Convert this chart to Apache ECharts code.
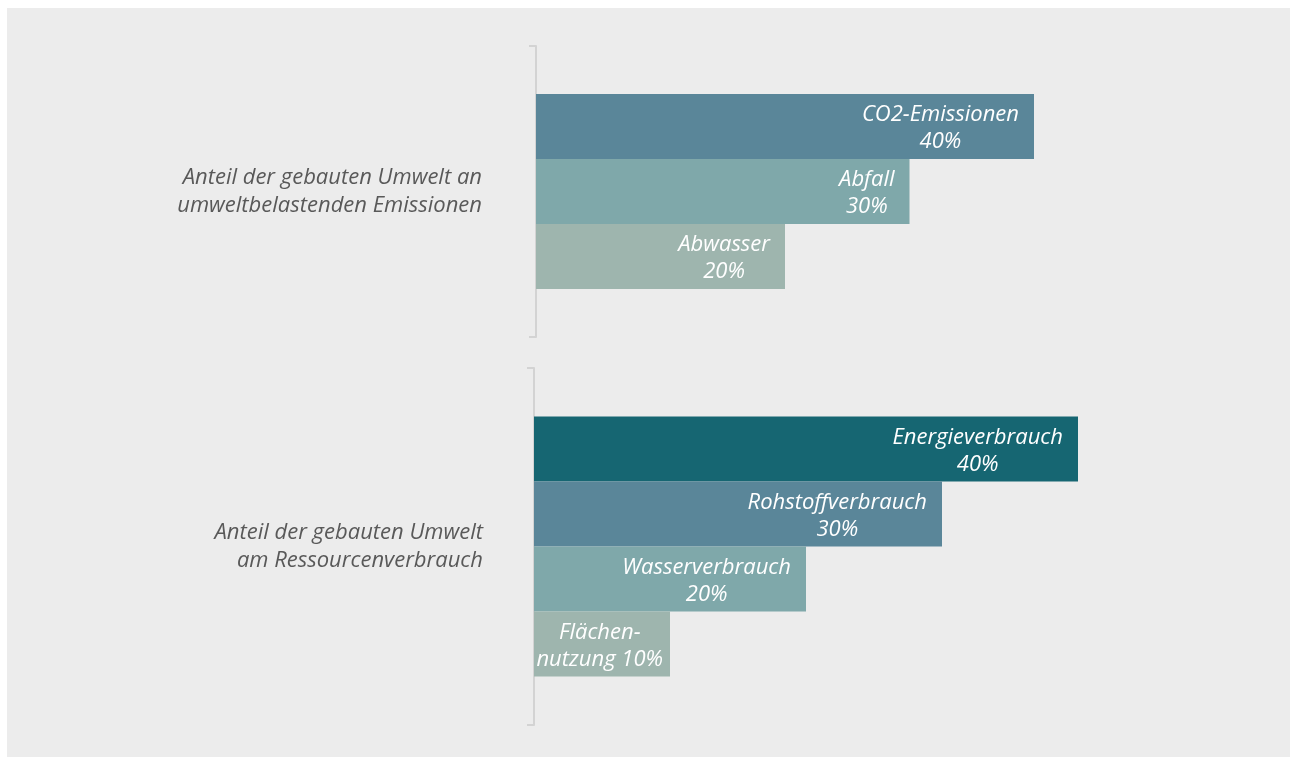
<!DOCTYPE html>
<html>
<head>
<meta charset="utf-8">
<script src="https://cdn.jsdelivr.net/npm/echarts@6/dist/echarts.min.js"></script>
<style>
  html, body { margin: 0; padding: 0; background: #ffffff; }
  #panel { position: absolute; left: 7px; top: 8px; width: 1283px; height: 749px; background: #ececec; }
  #chart { position: absolute; left: 0; top: 0; width: 1290px; height: 758px; }
</style>
</head>
<body>
<div id="panel"></div>
<div id="chart"></div>
<script>
// group titles (one category per group)
const emissionGroup = ["Anteil der gebauten Umwelt an\numweltbelastenden Emissionen"];
const resourceGroup = ["Anteil der gebauten Umwelt\nam Ressourcenverbrauch"];

const emissionNames = ["CO2-Emissionen", "Abfall", "Abwasser"];
const emissionValues = [40, 30, 20];

const resourceNames = ["Energieverbrauch", "Rohstoffverbrauch", "Wasserverbrauch", "Flächen-\nnutzung"];
const resourceValues = [40, 30, 20, 10];

const emissionColors = ["#5a8699", "#7fa8aa", "#9eb5ae"];
const resourceColors = ["#166672", "#5a8699", "#7fa8aa", "#9eb5ae"];

const font = "Open Sans";

function barLabel(name, value) {
  // two-line labels, each line centred in the block
  let text = name.indexOf("\n") >= 0 ? name + " " + value + "%" : name + "\n" + value + "%";
  return text.split("\n").map((l) => "{a|" + l + "}").join("\n");
}

function makeSeries(names, values, colors, gridIndex) {
  return names.map((name, i) => ({
    name: name,
    type: "bar",
    xAxisIndex: gridIndex,
    yAxisIndex: gridIndex,
    barWidth: 65,
    barGap: "0%",
    itemStyle: { color: colors[i] },
    label: {
      show: true,
      position: "insideRight",
      // the short bar has its label almost at the edge
      distance: name.indexOf("\n") >= 0 ? 7 : 15,
      offset: [0, 2],
      formatter: () => barLabel(name, values[i]),
      rich: {
        a: {
          align: "center",
          color: "#ffffff",
          fontFamily: font,
          fontStyle: "italic",
          fontSize: 22,
          lineHeight: 27,
        },
      },
    },
    data: [values[i]],
  }));
}

const catAxis = (data, margin) => ({
  type: "category",
  data: data,
  axisLine: { show: true, lineStyle: { color: "#d3d3d3", width: 2 } },
  axisTick: { show: true, length: 7, lineStyle: { color: "#d3d3d3", width: 2 } },
  axisLabel: {
    margin: margin,
    color: "#595959",
    fontFamily: font,
    fontStyle: "italic",
    fontSize: 22,
    lineHeight: 28,
  },
});

const valAxis = (gridIndex) => ({
  type: "value",
  gridIndex: gridIndex,
  min: 0,
  max: 40,
  show: false,
});

const option = {
  animation: false,
  grid: [
    { left: 536, top: 46, right: 256, height: 291 },
    { left: 534, top: 368, right: 212, height: 357 },
  ],
  xAxis: [valAxis(0), valAxis(1)],
  yAxis: [
    Object.assign(catAxis(emissionGroup, 54), { gridIndex: 0 }),
    Object.assign(catAxis(resourceGroup, 51), { gridIndex: 1 }),
  ],
  series: [
    ...makeSeries(emissionNames, emissionValues, emissionColors, 0),
    ...makeSeries(resourceNames, resourceValues, resourceColors, 1),
  ],
};

const myChart = echarts.init(document.getElementById("chart"));
myChart.setOption(option);
</script>
</body>
</html>
